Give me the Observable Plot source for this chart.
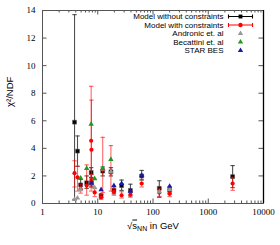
<!DOCTYPE html>
<html><head><meta charset="utf-8">
<script src="https://cdn.jsdelivr.net/npm/d3@7"></script>
<script src="https://cdn.jsdelivr.net/npm/@observablehq/plot@0.6"></script>
<style>body{margin:0;background:#fff}</style>
</head><body><div id="chart"></div>
<script>
// ---- data ----
const noConsE  = [3.8, 4.3, 4.9, 6.3, 7.6, 7.7, 11.5, 12.3, 17.3, 19.6, 27, 39, 62.4, 130, 200, 2760];
const noConsV  = [5.9, 3.8, 1.35, 1.5, 2.25, 1.5, 0.55, 2.35, 2.3, 0.95, 1.3, 0.95, 2.0, 1.1, 0.95, 1.95];
const noConsLo = [0.3, 2.7, 1.0, 1.1, 1.9, 1.2, 0.4, 2.0, 2.0, 0.7, 0.95, 0.55, 1.7, 0.45, 0.7, 1.15];
const noConsHi = [13.7, 4.9, 1.75, 2.0, 2.6, 1.85, 0.7, 2.65, 2.6, 1.25, 1.7, 1.4, 2.4, 1.65, 1.2, 2.75];

const consE  = [3.8, 4.3, 4.9, 6.3, 7.6, 7.7, 7.7, 8.8, 11.5, 12.3, 17.3, 19.6, 27, 39, 62.4, 130, 200, 2760];
const consV  = [2.2, 1.9, 1.05, 1.3, 4.55, 3.9, 1.7, 0.8, 0.45, 2.45, 2.25, 0.85, 0.6, 0.65, 1.45, 0.8, 0.7, 1.45];
const consLo = [1.2, 0.9, 0.75, 0.6, 0.9, 1.2, 1.3, 0.5, 0.3, 0.8, 0.9, 0.6, 0.4, 0.45, 1.2, 0.5, 0.5, 0.95];
const consHi = [3.1, 2.7, 1.4, 2.8, 8.5, 7.5, 2.1, 1.1, 0.65, 4.8, 4.2, 1.1, 0.85, 0.9, 1.75, 1.1, 0.9, 1.9];

const andronicE = [3.8, 4.3, 4.9, 8.8, 12.3, 17.3, 130, 200];
const andronicV = [0.3, 0.4, 1.0, 1.15, 2.5, 2.3, 0.85, 1.0];

const becattiniE = [4.9, 6.3, 7.6, 8.8, 12.3, 17.3];
const becattiniV = [1.85, 2.55, 5.75, 1.8, 2.55, 3.2];

const starE = [7.7, 11.5, 19.6, 27, 39, 62.4, 200];
const starV = [1.5, 1.0, 1.3, 1.45, 0.9, 2.05, 1.25];

const xMajor = [1, 10, 100, 1000, 10000];
const xMinor = [2,3,4,5,6,7,8,9, 20,30,40,50,60,70,80,90, 200,300,400,500,600,700,800,900, 2000,3000,4000,5000,6000,7000,8000,9000];
const yTicks = [0, 2, 4, 6, 8, 10, 12, 14];

const legendLabels = ["Model without constraints", "Model with constraints", "Andronic et. al", "Becattini et. al", "STAR BES"];
const legendColors = ["#000000", "#ff0000", "#999999", "#1e9a1e", "#1a1aa8"];

// ---- helpers ----
const rows = (E, V, Lo, Hi) => E.map((e, i) => ({e, v: V[i], lo: Lo ? Lo[i] : null, hi: Hi ? Hi[i] : null}));
const black = rows(noConsE, noConsV, noConsLo, noConsHi);
const red = rows(consE, consV, consLo, consHi);
const grey = rows(andronicE, andronicV);
const green = rows(becattiniE, becattiniV);
const blue = rows(starE, starV);

const cap = {draw(ctx, size) { const w = Math.sqrt(size / Math.PI); ctx.moveTo(-w, 0); ctx.lineTo(w, 0); }};
const legBar = {draw(ctx, size) { const w = 12; ctx.moveTo(-w, 0); ctx.lineTo(w, 0); ctx.moveTo(-w, -2); ctx.lineTo(-w, 2); ctx.moveTo(w, -2); ctx.lineTo(w, 2); }};

const W = 280, H = 245, mL = 42, mR = 17, mT = 10, mB = 42;
const innerH = H - mT - mB, innerW = W - mL - mR;

function errMarks(data, color, op) {
  return [
    Plot.ruleX(data, {x: "e", y1: "lo", y2: "hi", stroke: color, strokeWidth: 1.1, strokeOpacity: op}),
    Plot.dot(data, {x: "e", y: "lo", symbol: cap, r: 2.2, stroke: color, fill: "none", strokeWidth: 1.1, strokeOpacity: op}),
    Plot.dot(data, {x: "e", y: "hi", symbol: cap, r: 2.2, stroke: color, fill: "none", strokeWidth: 1.1, strokeOpacity: op})
  ];
}

const legendMarks = [];
const rowDy = [6, 14.5, 23, 31.5, 40];
legendLabels.forEach((lab, i) => {
  legendMarks.push(Plot.text([lab], {frameAnchor: "top-right", dx: -40, dy: rowDy[i], text: d => d, textAnchor: "end", lineAnchor: "middle", fontFamily: "'Liberation Sans', Arial, sans-serif", fontSize: 8, fill: "#000"}));
});
legendMarks.push(Plot.dot([0], {frameAnchor: "top-right", dx: -23, dy: rowDy[0], symbol: legBar, r: 2, stroke: legendColors[0], strokeWidth: 1.1, fill: "none"}));
legendMarks.push(Plot.dot([0], {frameAnchor: "top-right", dx: -23, dy: rowDy[0], symbol: "square", r: 2.2, fill: legendColors[0]}));
legendMarks.push(Plot.dot([0], {frameAnchor: "top-right", dx: -23, dy: rowDy[1], symbol: legBar, r: 2, stroke: legendColors[1], strokeWidth: 1.1, fill: "none"}));
legendMarks.push(Plot.dot([0], {frameAnchor: "top-right", dx: -23, dy: rowDy[1], symbol: "circle", r: 2.2, fill: legendColors[1]}));
for (let i = 2; i < 5; i++) {
  legendMarks.push(Plot.dot([0], {frameAnchor: "top-right", dx: -23, dy: rowDy[i], symbol: "triangle", r: 2, fill: legendColors[i]}));
}

const chart = Plot.plot({
  width: W, height: H, marginLeft: mL, marginRight: mR, marginTop: mT, marginBottom: mB,
  style: {fontFamily: "'Liberation Serif', 'Times New Roman', serif", fontSize: "9px", background: "#fff", color: "#000", overflow: "visible"},
  x: {type: "log", domain: [1, 10000]},
  y: {domain: [0, 14]},
  marks: [
    Plot.axisX(xMajor, {tickSize: 0, tickPadding: 5, tickFormat: d => String(d), label: null}),
    Plot.axisY(yTicks, {tickSize: 0, tickPadding: 7, tickFormat: d => String(d), label: null}),
    // inward ticks
    Plot.tickX(xMajor, {x: d => d, insetTop: innerH - 4.5, stroke: "#555"}),
    Plot.tickX(xMajor, {x: d => d, insetBottom: innerH - 4.5, stroke: "#555"}),
    Plot.tickX(xMinor, {x: d => d, insetTop: innerH - 2.5, stroke: "#555"}),
    Plot.tickX(xMinor, {x: d => d, insetBottom: innerH - 2.5, stroke: "#555"}),
    Plot.tickY(yTicks, {y: d => d, insetRight: innerW - 4.5, stroke: "#555"}),
    Plot.tickY(yTicks, {y: d => d, insetLeft: innerW - 4.5, stroke: "#555"}),
    Plot.frame({stroke: "#555", strokeWidth: 1}),
    Plot.ruleX([10000], {stroke: "#000", strokeWidth: 1.3}),
    // data
    ...errMarks(black, "#333", 0.85),
    Plot.dot(black, {x: "e", y: "v", symbol: "square", r: 2.2, fill: "#000", stroke: "#555", strokeWidth: 0.6}),
    ...errMarks(red, "#ff0000", 0.6),
    Plot.dot(red, {x: "e", y: "v", symbol: "circle", r: 2.1, fill: "#ff0000"}),
    Plot.dot(grey, {x: "e", y: "v", symbol: "triangle", r: 2, fill: legendColors[2]}),
    Plot.dot(green, {x: "e", y: "v", symbol: "triangle", r: 2, fill: legendColors[3]}),
    Plot.dot(blue, {x: "e", y: "v", symbol: "triangle", r: 2, fill: legendColors[4]}),
    // axis titles
    Plot.text(["χ²/NDF"], {frameAnchor: "left", dx: -33, rotate: -90, text: d => d, fontFamily: "'Liberation Sans', Arial, sans-serif", fontSize: 9.5, fill: "#000"}),
    Plot.text(["√sNN in GeV"], {frameAnchor: "bottom", dy: 22, text: d => d, lineAnchor: "middle", fontFamily: "'Liberation Sans', Arial, sans-serif", fontSize: 9.5, fill: "#000", className: "xlab"}),
    ...legendMarks
  ]
});

document.getElementById("chart").appendChild(chart);

// subscript NN and overline on s
const t = d3.select(chart).select("g.xlab text");
if (!t.empty()) {
  t.text(null);
  t.append("tspan").text("√");
  t.append("tspan").attr("text-decoration", "overline").text("s");
  t.append("tspan").attr("dy", "2.5").attr("font-size", "7").text("NN");
  t.append("tspan").attr("dy", "-2.5").text(" in GeV");
}
</script>
</body></html>
